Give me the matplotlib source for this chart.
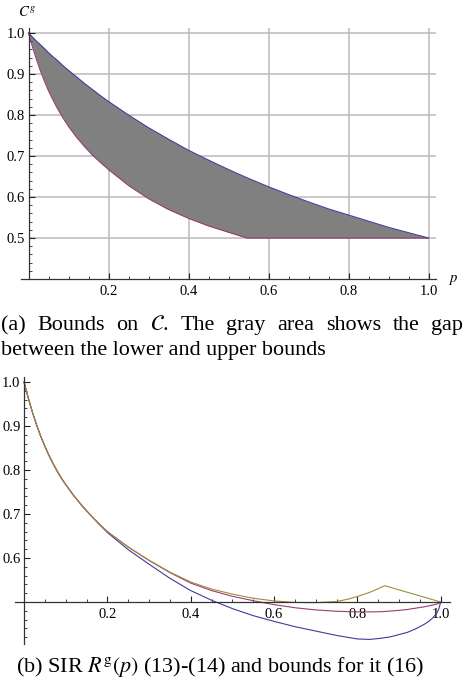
import numpy as np
import matplotlib
matplotlib.use("Agg")
import matplotlib.pyplot as plt
from matplotlib.ticker import MultipleLocator, FixedLocator

plt.rcParams['font.family'] = ['Liberation Serif', 'DejaVu Serif']
plt.rcParams['mathtext.fontset'] = 'stix'

# ---- (a) bounds on C ----
p_top = [0, 0.01, 0.02, 0.03, 0.04, 0.05, 0.06, 0.07, 0.08, 0.09, 0.10, 0.12, 0.14,
         0.16, 0.18, 0.20, 0.25, 0.30, 0.35, 0.40, 0.45, 0.50, 0.546, 0.60, 0.65,
         0.70, 0.75, 0.80, 0.85, 0.90, 0.95, 1.0]
upper_top = [1.0, 0.990, 0.980, 0.971, 0.962, 0.952, 0.943, 0.935, 0.926, 0.917, 0.909,
             0.893, 0.877, 0.862, 0.847, 0.833, 0.800, 0.769, 0.741, 0.714, 0.690, 0.667,
             0.647, 0.625, 0.606, 0.588, 0.571, 0.556, 0.541, 0.526, 0.513, 0.500]
lower_top = [1.0, 0.966, 0.935, 0.907, 0.882, 0.859, 0.839, 0.820, 0.803, 0.787, 0.772,
             0.746, 0.723, 0.702, 0.684, 0.667, 0.628, 0.596, 0.5695, 0.548, 0.5295,
             0.514, 0.500, 0.5, 0.5, 0.5, 0.5, 0.5, 0.5, 0.5, 0.5, 0.5]

# ---- (b) SIR and its bounds ----
p_bot = [0, 0.01, 0.02, 0.03, 0.04, 0.05, 0.06, 0.07, 0.08, 0.09, 0.10, 0.12, 0.14,
         0.16, 0.18, 0.20, 0.25, 0.30, 0.35, 0.40, 0.45, 0.50, 0.55, 0.60, 0.65, 0.70,
         0.75, 0.80, 0.83, 0.86, 0.88, 0.90, 0.92, 0.94, 0.96, 0.97, 0.98, 0.99, 0.995,
         1.0]
sir_blue = [1.0, 0.9645, 0.932, 0.903, 0.877, 0.854, 0.833, 0.814, 0.797, 0.781, 0.767,
            0.741, 0.718, 0.697, 0.677, 0.658, 0.619, 0.586, 0.554, 0.526, 0.504, 0.485,
            0.469, 0.456, 0.444, 0.434, 0.424, 0.416, 0.415, 0.418, 0.421, 0.426, 0.431,
            0.439, 0.449, 0.455, 0.463, 0.474, 0.483, 0.5]
sir_purple = [1.0, 0.9645, 0.932, 0.903, 0.877, 0.854, 0.833, 0.814, 0.797, 0.781, 0.767,
              0.741, 0.718, 0.697, 0.678, 0.660, 0.625, 0.5945, 0.567, 0.543, 0.526, 0.513,
              0.503, 0.494, 0.487, 0.482, 0.479, 0.4775, 0.4775, 0.478, 0.4795, 0.481,
              0.483, 0.486, 0.489, 0.491, 0.493, 0.495, 0.497, 0.499]
p_gold = [0, 0.01, 0.02, 0.03, 0.04, 0.05, 0.06, 0.07, 0.08, 0.09, 0.10, 0.12, 0.14,
          0.16, 0.18, 0.20, 0.25, 0.30, 0.35, 0.40, 0.45, 0.50, 0.55, 0.60, 0.65, 0.70,
          0.75, 0.78, 0.80, 0.83, 0.866, 1.0]
sir_gold = [1.0, 0.9645, 0.932, 0.903, 0.877, 0.854, 0.833, 0.814, 0.797, 0.781, 0.767,
            0.741, 0.718, 0.697, 0.678, 0.660, 0.625, 0.595, 0.568, 0.5455, 0.5295, 0.518,
            0.5085, 0.5025, 0.499, 0.4985, 0.501, 0.507, 0.5125, 0.522, 0.537, 0.5]

xticks = [0.2, 0.4, 0.6, 0.8, 1.0]
yticks_top = [0.5, 0.6, 0.7, 0.8, 0.9, 1.0]
yticks_bot = [0.6, 0.7, 0.8, 0.9, 1.0]

BLUE = '#3D3D99'
PURPLE = '#993D71'
GOLD = '#A08C3D'
GRID = '#BBBBBB'

W, H = 465, 688
fig = plt.figure(figsize=(W / 100, H / 100), dpi=100)


def style_axis(ax, yt):
    for s in ['top', 'right']:
        ax.spines[s].set_visible(False)
    ax.spines['left'].set_position(('data', 0))
    for s in ['left', 'bottom']:
        ax.spines[s].set_color('#333333')
        ax.spines[s].set_linewidth(0.9)
    ax.xaxis.set_major_locator(FixedLocator(xticks))
    ax.xaxis.set_minor_locator(MultipleLocator(0.05))
    ax.yaxis.set_major_locator(FixedLocator(yt))
    ax.yaxis.set_minor_locator(MultipleLocator(0.02))
    ax.set_xticklabels(['%.1f' % v for v in xticks])
    ax.set_yticklabels(['%.1f' % v for v in yt])
    ax.tick_params(which='major', direction='in', length=4, width=0.8,
                   labelsize=10.5, color='#222222')
    ax.tick_params(which='minor', direction='in', length=2.3, width=0.6, color='#222222')
    ax.tick_params(axis='x', pad=4.5)
    ax.tick_params(axis='y', pad=2.5)


# top axes: p=0 at x=28.5px, 400 px per unit; y 0.4 at 279px, 410 px per unit
ax1 = fig.add_axes([20.5 / W, 1 - 279 / H, 415 / W, 251 / H])
ax1.set_xlim(-0.02, 415 / 400 - 0.02)
ax1.set_ylim(0.4, 0.4 + 251 / 410)
style_axis(ax1, yticks_top)
ax1.hlines(yticks_top, 0, ax1.get_xlim()[1], color=GRID, lw=1.1, zorder=0)
ax1.vlines(xticks, 0.4, ax1.get_ylim()[1], color=GRID, lw=1.1, zorder=0)
ax1.fill_between(p_top, lower_top, upper_top, color='#808080', lw=0, zorder=1)
ax1.plot(p_top, lower_top, color=PURPLE, lw=0.8, zorder=2)
ax1.plot(p_top, upper_top, color=BLUE, lw=0.8, zorder=2)
fig.text(27 / W, 1 - 17 / H, r'$C^g$', fontsize=10.5, ha='center', va='baseline')
fig.text(448 / W, 1 - 282 / H, r'$p$', fontsize=10.5, ha='left', va='baseline')

# bottom axes: p=0 at x=24px, 416.7 px per unit; y 0.5 at 602px, 440 px per unit
ax2 = fig.add_axes([15 / W, 1 - 644 / H, 435 / W, 267 / H])
ax2.set_xlim(-9 / 416.7, 426 / 416.7)
ax2.set_ylim(0.5 - 42 / 440, 0.5 + 225 / 440)
style_axis(ax2, yticks_bot)
ax2.spines['bottom'].set_position(('data', 0.5))
ax2.plot(p_bot, sir_blue, color=BLUE, lw=0.8, clip_on=False)
ax2.plot(p_bot, sir_purple, color=PURPLE, lw=0.8, clip_on=False)
ax2.plot(p_gold, sir_gold, color=GOLD, lw=0.8, clip_on=False)

# captions
cap_size = 15.9
renderer = fig.canvas.get_renderer()


def justify(words, y_px, x0, x1):
    texts = [fig.text(0, 1 - y_px / H, w, fontsize=cap_size, va='baseline') for w in words]
    widths = [t.get_window_extent(renderer).width for t in texts]
    gap = (x1 - x0 - sum(widths)) / (len(words) - 1)
    x = x0
    for t, w in zip(texts, widths):
        t.set_x(x / W)
        x += w + gap


justify(['(a)', 'Bounds', 'on', r'$\mathcal{C}$.', 'The', 'gray', 'area', 'shows', 'the', 'gap'],
        330, 1, 463)
fig.text(1 / W, 1 - 355 / H, 'between the lower and upper bounds', fontsize=cap_size,
         va='baseline')
fig.text(16 / W, 1 - 672 / H, r'(b) SIR $R^{\mathrm{g}}(p)$ (13)-(14) and bounds for it (16)',
         fontsize=cap_size, va='baseline')

fig.savefig('out.png', dpi=100)
